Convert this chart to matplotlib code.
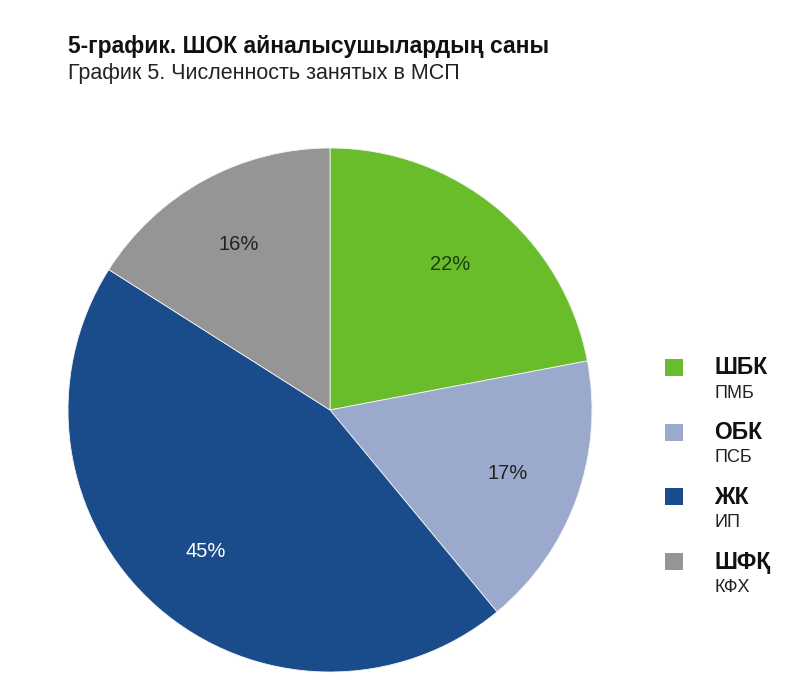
import matplotlib
matplotlib.use("Agg")
import matplotlib.pyplot as plt
from matplotlib.patches import Rectangle

plt.rcParams['font.family'] = ['Liberation Sans', 'DejaVu Sans']

title_kz = "5-график. ШОК айналысушылардың саны"
title_ru = "График 5. Численность занятых в МСП"
labels_kz = ["ШБК", "ОБК", "ЖК", "ШФҚ"]
labels_ru = ["ПМБ", "ПСБ", "ИП", "КФХ"]
values = [22, 17, 45, 16]
colors = ["#69bd2a", "#9ba9cc", "#1a4c8b", "#959595"]
pct_colors = ["#1e3d12", "#222222", "#ffffff", "#222222"]

fig = plt.figure(figsize=(8, 6.9), dpi=100)
fig.patch.set_facecolor("white")

fig.text(68/800, 1-46/690, title_kz, fontsize=16.5, fontweight="bold", va="center", ha="left", color="#111111")
fig.text(68/800, 1-73/690, title_ru, fontsize=15.5, va="center", ha="left", color="#222222")

ax = fig.add_axes([68/800, 18/690, 524/800, 524/690])
wedges, texts, autotexts = ax.pie(values, colors=colors, startangle=90, counterclock=False,
                                  autopct=lambda p: f"{p:.0f}%", pctdistance=0.72,
                                  wedgeprops=dict(linewidth=0.6, edgecolor="#f4f4f4"),
                                  textprops=dict(fontsize=14.5))
for t, c in zip(autotexts, pct_colors):
    t.set_color(c)
ax.set_xlim(-1, 1)
ax.set_ylim(-1, 1)
ax.set_aspect("equal")

y0 = 368
step = 64.7
for i in range(len(values)):
    y = y0 + i*step
    fig.patches.append(Rectangle((665/800, 1-(y+8)/690), 18/800, 17/690, transform=fig.transFigure,
                                 facecolor=colors[i], edgecolor="none"))
    fig.text(714/800, 1-y/690, labels_kz[i], fontsize=16.5, fontweight="bold", va="center", ha="left", color="#111111")
    fig.text(714/800, 1-(y+25)/690, labels_ru[i], fontsize=13, va="center", ha="left", color="#222222")

fig.savefig("out.png", dpi=100, facecolor="white")
